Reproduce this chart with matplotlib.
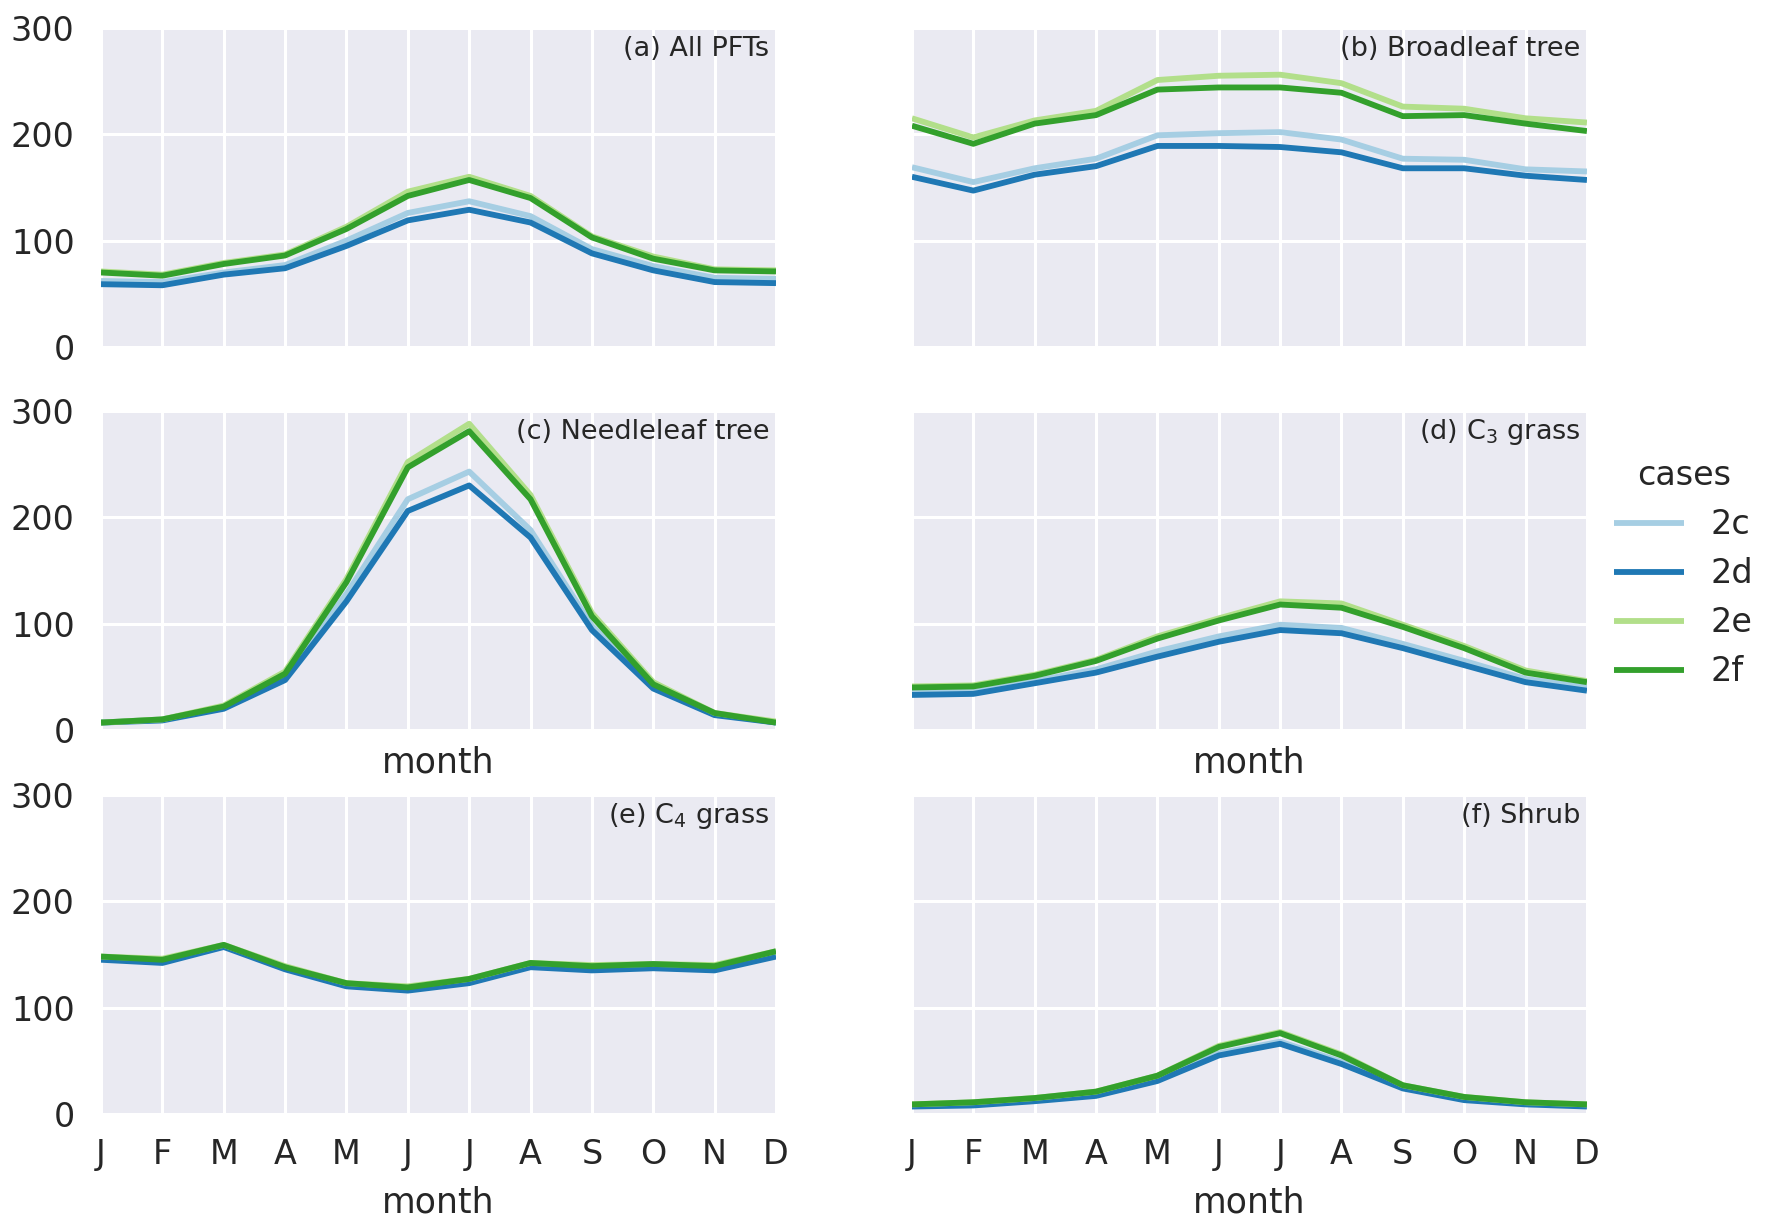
import matplotlib
matplotlib.use('Agg')
import matplotlib.pyplot as plt

# monthly values for four cases, one dict per PFT panel
months = ['J', 'F', 'M', 'A', 'M', 'J', 'J', 'A', 'S', 'O', 'N', 'D']
cases = ['2c', '2d', '2e', '2f']
colors = ['#a6cee3', '#1f78b4', '#b2df8a', '#33a02c']

all_pfts = {
    '2c': [62, 61, 70, 77, 100, 126, 137, 123, 92, 76, 65, 64],
    '2d': [59, 58, 68, 74, 95, 119, 129, 117, 88, 72, 61, 60],
    '2e': [71, 68, 79, 87, 113, 146, 160, 142, 104, 85, 73, 72],
    '2f': [70, 67, 78, 86, 111, 142, 157, 140, 103, 83, 72, 71],
}
broadleaf = {
    '2c': [169, 155, 168, 177, 199, 201, 202, 195, 177, 176, 167, 165],
    '2d': [160, 147, 162, 170, 189, 189, 188, 183, 168, 168, 161, 157],
    '2e': [215, 197, 213, 222, 251, 255, 256, 248, 226, 224, 215, 211],
    '2f': [208, 191, 210, 218, 242, 244, 244, 239, 217, 218, 210, 203],
}
needleleaf = {
    '2c': [7, 10, 21, 50, 128, 217, 243, 188, 98, 40, 15, 7],
    '2d': [7, 9, 20, 47, 121, 206, 230, 181, 94, 39, 14, 7],
    '2e': [7, 10, 23, 55, 142, 252, 288, 221, 110, 45, 16, 8],
    '2f': [7, 10, 22, 53, 139, 247, 281, 217, 107, 43, 16, 7],
}
c3_grass = {
    '2c': [35, 36, 46, 57, 74, 88, 99, 96, 81, 65, 48, 40],
    '2d': [33, 34, 44, 54, 69, 83, 94, 91, 77, 61, 45, 37],
    '2e': [41, 42, 52, 66, 88, 105, 121, 119, 99, 79, 56, 46],
    '2f': [40, 41, 51, 65, 86, 103, 118, 115, 97, 77, 54, 45],
}
c4_grass = {
    '2c': [146, 143, 158, 137, 121, 117, 124, 139, 136, 138, 136, 149],
    '2d': [145, 142, 157, 136, 120, 116, 123, 138, 135, 137, 135, 148],
    '2e': [148, 146, 159, 139, 123, 120, 127, 142, 140, 141, 140, 153],
    '2f': [148, 145, 159, 138, 123, 119, 127, 142, 139, 141, 139, 153],
}
shrub = {
    '2c': [8, 9, 13, 18, 32, 57, 68, 49, 25, 14, 10, 8],
    '2d': [7, 8, 12, 17, 31, 55, 66, 47, 24, 13, 9, 7],
    '2e': [9, 11, 15, 21, 36, 64, 77, 56, 27, 16, 11, 9],
    '2f': [9, 11, 15, 21, 36, 63, 76, 55, 27, 16, 11, 9],
}

panels = [all_pfts, broadleaf, needleleaf, c3_grass, c4_grass, shrub]
titles = ['(a) All PFTs', '(b) Broadleaf tree', '(c) Needleleaf tree',
          '(d) C$_3$ grass', '(e) C$_4$ grass', '(f) Shrub']

txt = '#262626'
plt.rcParams.update({'font.family': 'DejaVu Sans', 'text.color': txt,
                     'axes.labelcolor': txt, 'xtick.color': txt,
                     'ytick.color': txt})

fig = plt.figure(figsize=(17.66, 12.29), dpi=100, facecolor='white')
lefts = [0.0572, 0.5164]
bottoms = [0.7177, 0.406, 0.0936]
w, h = 0.3822, 0.2596

for i, data in enumerate(panels):
    r, c = i // 2, i % 2
    ax = fig.add_axes([lefts[c], bottoms[r], w, h])
    ax.set_facecolor('#eaeaf2')
    for s in ax.spines.values():
        s.set_visible(False)
    ax.grid(True, color='white', linewidth=2.2)
    ax.set_axisbelow(True)
    for case, col in zip(cases, colors):
        ax.plot(range(12), data[case], color=col, lw=4.2,
                solid_capstyle='butt', label=case)
    ax.set_xlim(0, 11)
    ax.set_ylim(0, 300)
    ax.set_xticks(range(12))
    ax.set_xticklabels(months)
    ax.set_yticks([0, 100, 200, 300])
    ax.tick_params(axis='both', length=0, labelsize=24)
    ax.tick_params(axis='x', pad=17)
    ax.tick_params(axis='y', pad=19)
    if c == 1:
        ax.tick_params(axis='y', labelleft=False)
    if r < 2:
        ax.tick_params(axis='x', labelbottom=False)
    if r == 1:
        ax.set_xlabel('month', fontsize=25, labelpad=11)
    if r == 2:
        ax.set_xlabel('month', fontsize=25, labelpad=10.5)
    ax.text(0.99, 0.935, titles[i], transform=ax.transAxes,
            ha='right', va='center', fontsize=19.5)
    if i == 0:
        handles, labels = ax.get_legend_handles_labels()

fig.legend(handles, labels, title='cases', loc='center left',
           bbox_to_anchor=(0.897, 0.533), frameon=False, fontsize=24,
           title_fontsize=24, handlelength=2.1, labelspacing=0.48)

fig.savefig('out.png', dpi=100, facecolor='white')
